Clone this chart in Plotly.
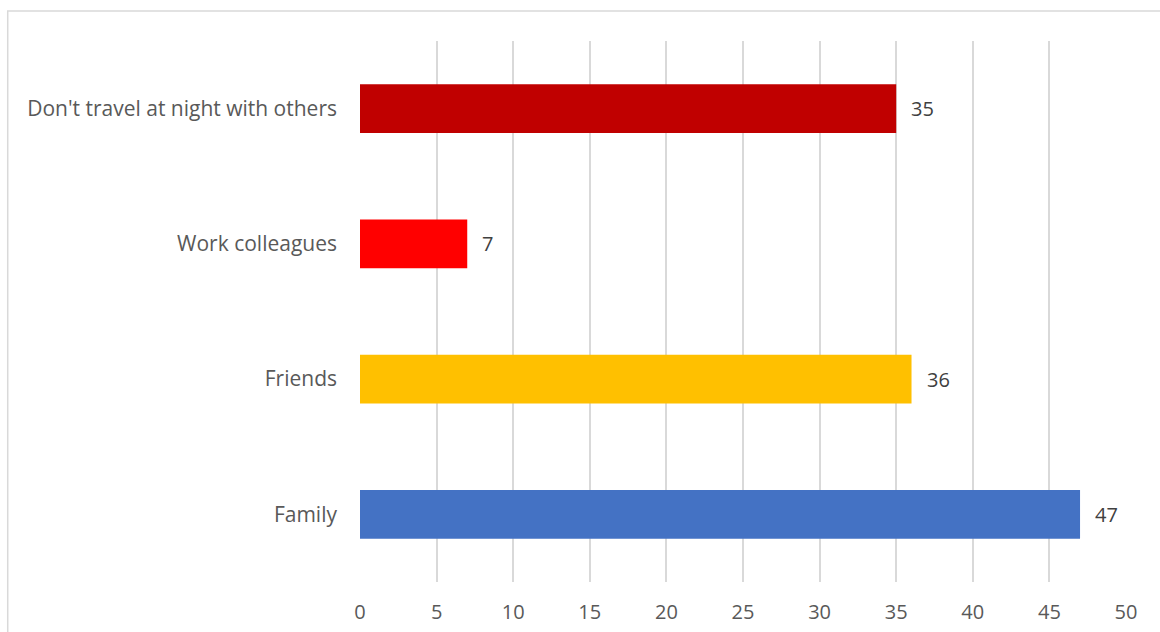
import plotly.graph_objects as go

categories = ["Family", "Friends", "Work colleagues", "Don't travel at night with others"]
values = [47, 36, 7, 35]
colors = ["#4472C4", "#FFC000", "#FF0000", "#C00000"]
x_ticks = [0, 5, 10, 15, 20, 25, 30, 35, 40, 45, 50]

W, H = 1160, 632
ml, mr, mt, mb = 359.5, 34, 41, 50
pw, ph = W - ml - mr, H - mt - mb

fig = go.Figure(go.Bar(
    y=categories, x=values, orientation="h",
    marker=dict(color=colors, line=dict(width=0)),
    width=0.36,
    hoverinfo="skip",
))

for c, v in zip(categories, values):
    fig.add_annotation(x=v, y=c, text=str(v), showarrow=False, xanchor="left",
                       xshift=13, font=dict(family="Open Sans", size=20, color="#404040"))

fig.update_layout(
    width=W, height=H,
    margin=dict(l=ml, r=mr, t=mt, b=mb, autoexpand=False),
    paper_bgcolor="white", plot_bgcolor="white",
    font=dict(family="Open Sans", size=20, color="#595959"),
    showlegend=False,
    xaxis=dict(range=[0, 50], tickvals=x_ticks, showgrid=True, gridcolor="#D9D9D9",
               gridwidth=1.5, zeroline=False, showline=False, ticks="",
               ticklabelstandoff=16, fixedrange=True),
    yaxis=dict(categoryorder="array", categoryarray=categories, showgrid=False,
               zeroline=False, showline=False, ticks="", ticklabelstandoff=22,
               tickfont=dict(size=21), fixedrange=True),
    shapes=[dict(type="rect", xref="paper", yref="paper",
                 x0=(7 - ml) / pw, x1=1.2, y0=-0.3, y1=1 + (mt - 11) / ph,
                 line=dict(color="#D9D9D9", width=1.5), layer="below")],
)

fig.write_html("out.html", config={"displayModeBar": False},
               post_script="document.body.style.margin='0';document.body.style.padding='0';")
